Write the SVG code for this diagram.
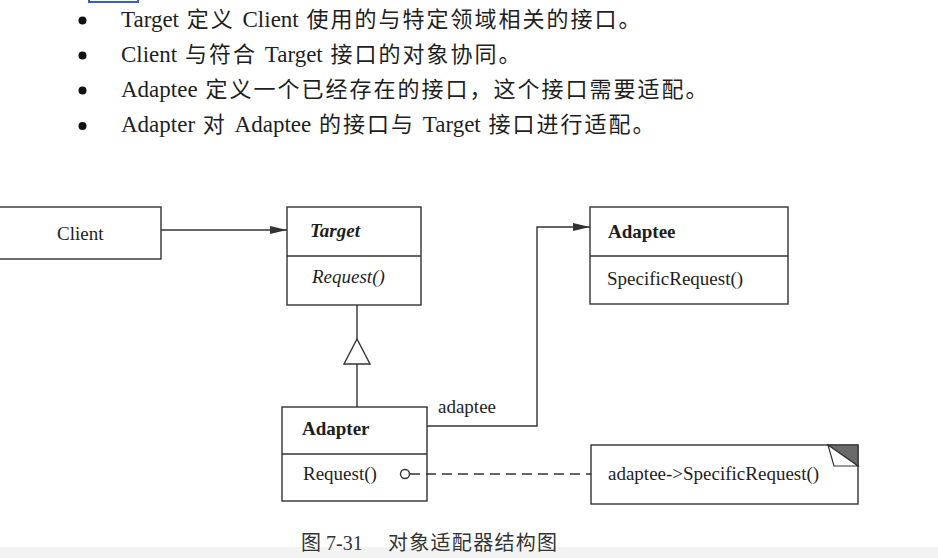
<svg xmlns="http://www.w3.org/2000/svg" width="938" height="558" viewBox="0 0 938 558">
  <defs>
    <style>
      .box { fill: #ffffff; stroke: #333333; stroke-width: 1.4; }
      .ln { fill: none; stroke: #333333; stroke-width: 1.4; }
      .t { font-family: "Liberation Serif", "Noto Sans CJK SC", serif; font-size: 19px; fill: #1e1e1e; }
      .b { font-weight: bold; }
      .i { font-style: italic; }
      .body { font-family: "Liberation Serif", "Noto Sans CJK SC", serif; font-size: 23px; fill: #1e1e1e; word-spacing: 2px; }
      .cjk { font-family: "Noto Sans CJK SC", sans-serif; font-size: 22px; letter-spacing: 2px; }
      .cap { font-family: "Liberation Serif", "Noto Sans CJK SC", serif; font-size: 20px; fill: #333333; }
    </style>
    <marker id="arrow" markerUnits="userSpaceOnUse" markerWidth="17" markerHeight="9" refX="17" refY="4.5" orient="auto">
      <path d="M0,0.5 L17,4.5 L0,8.5 Z" fill="#333333"/>
    </marker>
  </defs>
  <rect x="0" y="0" width="938" height="558" fill="#ffffff"/>
  <rect x="0" y="547" width="938" height="11" fill="#f3f3f3"/>
  <rect x="89" y="-10" width="49" height="12" fill="none" stroke="#3a5bd0" stroke-width="2"/>

  <g id="bullets">
    <circle cx="82.5" cy="20.5" r="4" fill="#111"/>
    <circle cx="82.5" cy="55.5" r="4" fill="#111"/>
    <circle cx="82.5" cy="90.5" r="4" fill="#111"/>
    <circle cx="82.5" cy="126" r="4" fill="#111"/>
    <text class="body" x="121" y="27">Target <tspan class="cjk">定义</tspan> Client <tspan class="cjk">使用的与特定领域相关的接口。</tspan></text>
    <text class="body" x="121" y="62">Client <tspan class="cjk">与符合</tspan> Target <tspan class="cjk">接口的对象协同。</tspan></text>
    <text class="body" x="121" y="97">Adaptee <tspan class="cjk">定义一个已经存在的接口，这个接口需要适配。</tspan></text>
    <text class="body" x="121" y="132">Adapter <tspan class="cjk">对</tspan> Adaptee <tspan class="cjk">的接口与</tspan> Target <tspan class="cjk">接口进行适配。</tspan></text>
  </g>

  <g id="client">
    <rect class="box" x="-2" y="207" width="163" height="52"/>
    <text class="t" x="57" y="240">Client</text>
  </g>

  <g id="target">
    <rect class="box" x="287" y="207" width="134" height="98"/>
    <line class="ln" x1="287" y1="256" x2="421" y2="256"/>
    <text class="t b i" x="310" y="237">Target</text>
    <text class="t i" x="312" y="283">Request()</text>
  </g>

  <g id="adaptee">
    <rect class="box" x="590" y="207" width="198" height="97"/>
    <line class="ln" x1="590" y1="256" x2="788" y2="256"/>
    <text class="t b" x="608" y="238">Adaptee</text>
    <text class="t" x="607" y="285">SpecificRequest()</text>
  </g>

  <g id="adapter">
    <rect class="box" x="282" y="407" width="145" height="94"/>
    <line class="ln" x1="282" y1="454" x2="427" y2="454"/>
    <text class="t b" x="302" y="435">Adapter</text>
    <text class="t" x="303" y="480">Request()</text>
  </g>

  <g id="note">
    <rect class="box" x="591" y="445" width="267" height="59"/>
    <polygon points="828,445 858,445 858,466" fill="#6a6a6a" stroke="#333333" stroke-width="1.2"/>
    <polygon points="828,445 834,466 858,466" fill="#ffffff" stroke="#333333" stroke-width="1.2"/>
    <text class="t" x="608" y="480">adaptee-&gt;SpecificRequest()</text>
  </g>

  <g id="connectors">
    <line class="ln" x1="161" y1="230" x2="287" y2="230" marker-end="url(#arrow)"/>
    <line class="ln" x1="357" y1="305" x2="357" y2="339"/>
    <polygon class="box" points="357,339 344,364 370,364"/>
    <line class="ln" x1="357" y1="364" x2="357" y2="407"/>
    <polyline class="ln" points="427,426 537,426 537,227 590,227" marker-end="url(#arrow)"/>
    <circle class="box" cx="405" cy="474" r="4.5"/>
    <line class="ln" x1="410" y1="474" x2="591" y2="474" stroke-dasharray="10,6"/>
    <text class="t" x="438" y="413">adaptee</text>
  </g>

  <g id="caption">
    <text class="cap" x="301" y="550">图</text>
    <text class="cap" x="326" y="550">7-31</text>
    <text class="cap" x="388" y="550" textLength="169" lengthAdjust="spacing">对象适配器结构图</text>
  </g>
</svg>
